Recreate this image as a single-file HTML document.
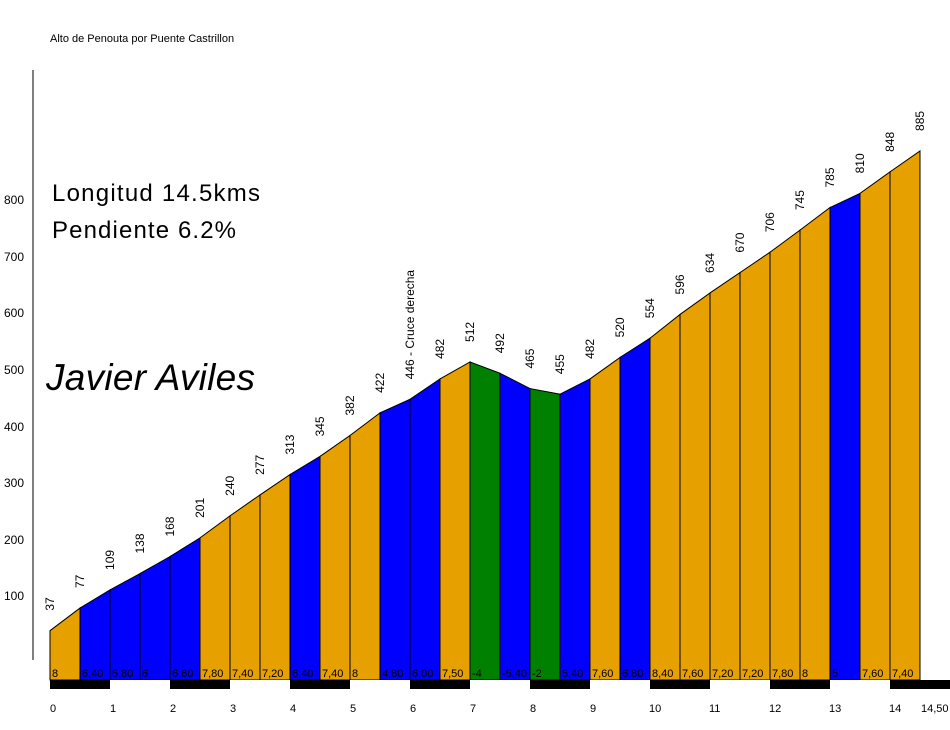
<!DOCTYPE html>
<html><head><meta charset="utf-8"><style>
html,body{margin:0;padding:0;background:#fff;}
svg{display:block;font-family:"Liberation Sans",Arial,sans-serif;}
</style></head><body>
<svg width="950" height="730" viewBox="0 0 950 730" xmlns="http://www.w3.org/2000/svg">
<text x="50" y="42" font-size="11">Alto de Penouta por Puente Castrillon</text>
<line x1="33" y1="70" x2="33" y2="660" stroke="#000"/>
<g font-size="12" text-anchor="end">
<text x="24" y="600">100</text><text x="24" y="544">200</text><text x="24" y="487">300</text><text x="24" y="431">400</text><text x="24" y="374">500</text><text x="24" y="317">600</text><text x="24" y="261">700</text><text x="24" y="204">800</text>
</g>
<text x="52" y="201" font-size="24" textLength="208">Longitud 14.5kms</text>
<text x="52" y="238" font-size="24" textLength="184">Pendiente 6.2%</text>
<text x="46" y="390" font-size="37" font-style="italic" textLength="209">Javier Aviles</text>
<g id="segs" stroke="#000" stroke-width="1"></g>
<g id="lbls" font-size="12"></g>
<g id="bar"></g>
<g font-size="11" id="km"></g>
<script>
var e=[37,77,109,138,168,201,240,277,313,345,382,422,446,482,512,492,465,455,482,520,554,596,634,670,706,745,785,810,848,885];
var c="obbbbooob"+"oo"+"bb"+"o"+"g"+"b"+"g"+"b"+"o"+"b"+"oooooo"+"b"+"oo";
var g=["8","6,40","5,80","6","6,60","7,80","7,40","7,20","6,40","7,40","8","4,80","6,00","7,50","-4","-5,40","-2","5,40","7,60","6,80","8,40","7,60","7,20","7,20","7,80","8","5","7,60","7,40"];
var col={o:"#E6A000",b:"#0000FF",g:"#008000"};
function X(k){return 50+k*60;}function Y(v){return 651.6-v*0.5657;}
var ns="http://www.w3.org/2000/svg";
function el(p,t,a,tx){var n=document.createElementNS(ns,t);for(var k in a)n.setAttribute(k,a[k]);if(tx!=null)n.textContent=tx;document.getElementById(p).appendChild(n);}
for(var i=0;i<29;i++){var x1=X(i*0.5),x2=X(i*0.5+0.5);
el("segs","polygon",{points:x1+",680 "+x1+","+Y(e[i])+" "+x2+","+Y(e[i+1])+" "+x2+",680",fill:col[c[i]]});
el("lbls","text",{x:x1+2,y:677,"font-size":11},g[i]);}
for(var i=0;i<30;i++){var x=X(i*0.5)+4,y=Y(e[i])-20;var t=e[i]+(i==12?" - Cruce derecha":"");
el("lbls","text",{x:x,y:y,transform:"rotate(-90 "+x+" "+y+")"},t);}
for(var k=0;k<15;k++){el("bar","rect",{x:X(k),y:680,width:60,height:9,fill:k%2?"#fff":"#000"});}
el("bar","rect",{x:X(14),y:680,width:100,height:9,fill:"#000"});
for(var k=0;k<15;k++)el("km","text",{x:X(k)+(k>=10?-1:0),y:712},k);
el("km","text",{x:921,y:712},"14,50");
</script>
</svg>
</body></html>
